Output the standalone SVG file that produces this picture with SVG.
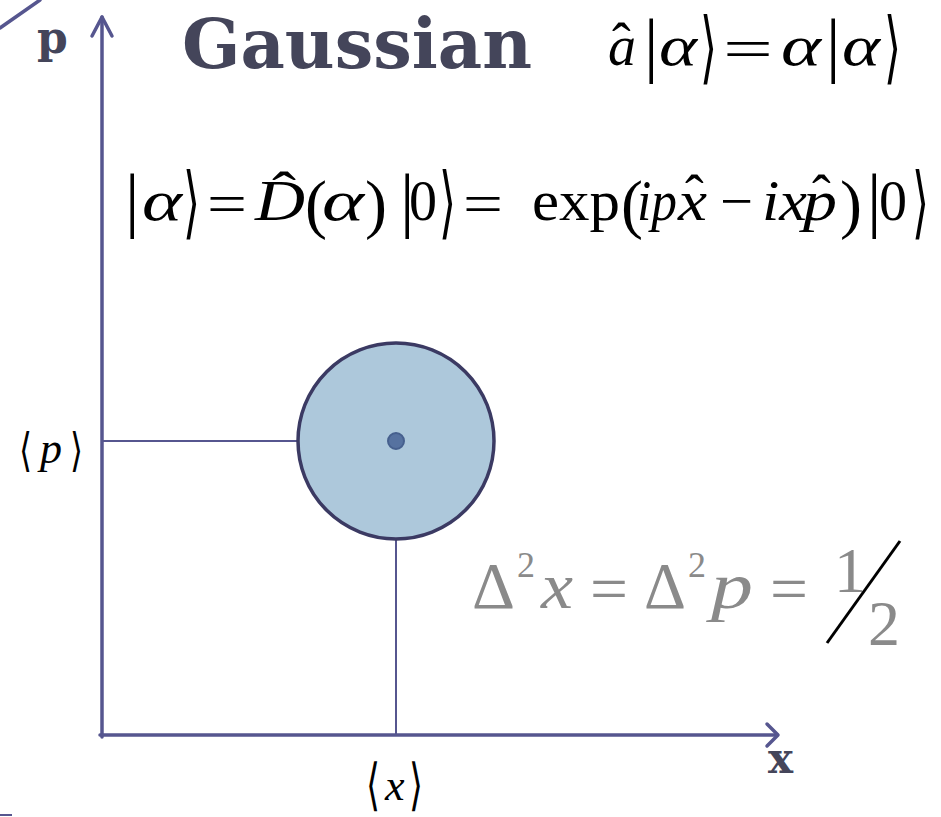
<svg xmlns="http://www.w3.org/2000/svg" width="941" height="817" viewBox="0 0 941 817">
<style>
.ax{stroke:#56568f;stroke-width:3.5;fill:none;stroke-linecap:round;stroke-linejoin:round}
.thin{stroke:#56568f;stroke-width:2;fill:none}
.m{font-family:"Liberation Serif","Times New Roman",serif;font-size:56px;fill:#000}
.i{font-style:italic}
.bar{font-family:"Liberation Serif",serif;font-size:72px;fill:#000}
.ang{font-family:"DejaVu Sans",sans-serif;font-size:79px;fill:#000}
.g{fill:#8a8a8a}
.bold{font-family:"DejaVu Serif",serif;font-weight:bold;fill:#44455a}
</style>
<g id="frame">
<line x1="0" y1="28" x2="40" y2="0" class="ax"/>
<line x1="0" y1="815" x2="12" y2="815" class="thin"/>
</g>
<g id="connectors">
<line x1="102" y1="441" x2="297" y2="441" class="thin"/>
<line x1="396" y1="539" x2="396" y2="735" class="thin"/>
</g>
<g id="axes">
<polyline points="102,737 102,17" class="ax"/>
<polyline points="92,36 102,17 112,36" class="ax"/>
<polyline points="100,735 777,735" class="ax"/>
<polyline points="767,724 778,735 767,746" class="ax"/>
<text x="37" y="53" class="bold" style="font-size:44px">p</text>
<text x="768" y="773" class="bold" style="font-size:42px">x</text>
</g>
<g id="state">
<circle cx="396" cy="441" r="98" fill="#adc8db" stroke="#3b3a63" stroke-width="3.5"/>
<circle cx="396" cy="441" r="8" fill="#5672a0" stroke="#46608e" stroke-width="2"/>
</g>
<g id="title">
<text x="182" y="68" class="bold" style="font-size:70px" textLength="350" lengthAdjust="spacingAndGlyphs">Gaussian</text>
</g>
<g id="eq1">
<text x="608" y="65" class="m i">a</text>
<text x="612" y="62" class="m">ˆ</text>
<text x="644" y="69" class="bar">|</text>
<text x="659" y="65" class="m i" textLength="38" lengthAdjust="spacingAndGlyphs">α</text>
<text x="700" y="74" class="ang" textLength="17" lengthAdjust="spacingAndGlyphs">⟩</text>
<text x="723" y="68" class="m" textLength="50" lengthAdjust="spacingAndGlyphs">=</text>
<text x="781" y="65" class="m i" textLength="40" lengthAdjust="spacingAndGlyphs">α</text>
<text x="826" y="69" class="bar">|</text>
<text x="842" y="65" class="m i" textLength="38" lengthAdjust="spacingAndGlyphs">α</text>
<text x="884" y="74" class="ang" textLength="17" lengthAdjust="spacingAndGlyphs">⟩</text>
</g>
<g id="eq2">
<text x="125" y="224" class="bar">|</text>
<text x="142" y="220" class="m i" textLength="40" lengthAdjust="spacingAndGlyphs">α</text>
<text x="183" y="229" class="ang" textLength="17" lengthAdjust="spacingAndGlyphs">⟩</text>
<text x="207" y="223" class="m" textLength="40" lengthAdjust="spacingAndGlyphs">=</text>
<text x="255" y="220" class="m i" textLength="50" lengthAdjust="spacingAndGlyphs">D</text>
<text x="272" y="211" class="m" textLength="24" lengthAdjust="spacingAndGlyphs">ˆ</text>
<text x="305" y="226" class="m" style="font-size:66px">(</text>
<text x="322" y="220" class="m i" textLength="42" lengthAdjust="spacingAndGlyphs">α</text>
<text x="365" y="226" class="m" style="font-size:66px">)</text>
<text x="400" y="224" class="bar">|</text>
<text x="409" y="220" class="m">0</text>
<text x="439" y="229" class="ang" textLength="17" lengthAdjust="spacingAndGlyphs">⟩</text>
<text x="463" y="223" class="m" textLength="40" lengthAdjust="spacingAndGlyphs">=</text>
<text x="532" y="220" class="m" textLength="88" lengthAdjust="spacingAndGlyphs">exp</text>
<text x="621" y="226" class="m" style="font-size:66px">(</text>
<text x="637" y="220" class="m i" textLength="40" lengthAdjust="spacingAndGlyphs">ip</text>
<text x="678" y="220" class="m i" textLength="29" lengthAdjust="spacingAndGlyphs">x</text>
<text x="685" y="214" class="m">ˆ</text>
<text x="720" y="220" class="m" textLength="33" lengthAdjust="spacingAndGlyphs">−</text>
<text x="762" y="220" class="m i" textLength="45" lengthAdjust="spacingAndGlyphs">ix</text>
<text x="803" y="220" class="m i" textLength="34" lengthAdjust="spacingAndGlyphs">p</text>
<text x="812" y="214" class="m">ˆ</text>
<text x="840" y="226" class="m" style="font-size:66px">)</text>
<text x="867" y="224" class="bar">|</text>
<text x="879" y="220" class="m">0</text>
<text x="912" y="229" class="ang" textLength="17" lengthAdjust="spacingAndGlyphs">⟩</text>
</g>
<g id="label-p">
<text x="19" y="466" class="ang" style="font-size:46px" textLength="13" lengthAdjust="spacingAndGlyphs">⟨</text>
<text x="40" y="463" class="m i" style="font-size:44px">p</text>
<text x="70" y="466" class="ang" style="font-size:46px" textLength="13" lengthAdjust="spacingAndGlyphs">⟩</text>
</g>
<g id="label-x">
<text x="366" y="804" class="ang" style="font-size:56px" textLength="14" lengthAdjust="spacingAndGlyphs">⟨</text>
<text x="385" y="800" class="m i" style="font-size:44px">x</text>
<text x="409" y="804" class="ang" style="font-size:56px" textLength="14" lengthAdjust="spacingAndGlyphs">⟩</text>
</g>
<g id="uncertainty">
<text x="472" y="608" class="m g" style="font-size:66px" textLength="43" lengthAdjust="spacingAndGlyphs">Δ</text>
<text x="517" y="577" class="m g" style="font-size:36px">2</text>
<text x="541" y="608" class="m g i" style="font-size:66px" textLength="32" lengthAdjust="spacingAndGlyphs">x</text>
<text x="590" y="611" class="m g" style="font-size:66px" textLength="38" lengthAdjust="spacingAndGlyphs">=</text>
<text x="644" y="608" class="m g" style="font-size:66px" textLength="42" lengthAdjust="spacingAndGlyphs">Δ</text>
<text x="688" y="577" class="m g" style="font-size:36px">2</text>
<text x="711" y="608" class="m g i" style="font-size:66px" textLength="42" lengthAdjust="spacingAndGlyphs">p</text>
<text x="770" y="611" class="m g" style="font-size:66px" textLength="38" lengthAdjust="spacingAndGlyphs">=</text>
<text x="834" y="592" class="m g" style="font-size:64px">1</text>
<text x="868" y="645" class="m g" style="font-size:64px">2</text>
<line x1="900" y1="541" x2="827" y2="643" stroke="#000" stroke-width="3"/>
</g>
</svg>
